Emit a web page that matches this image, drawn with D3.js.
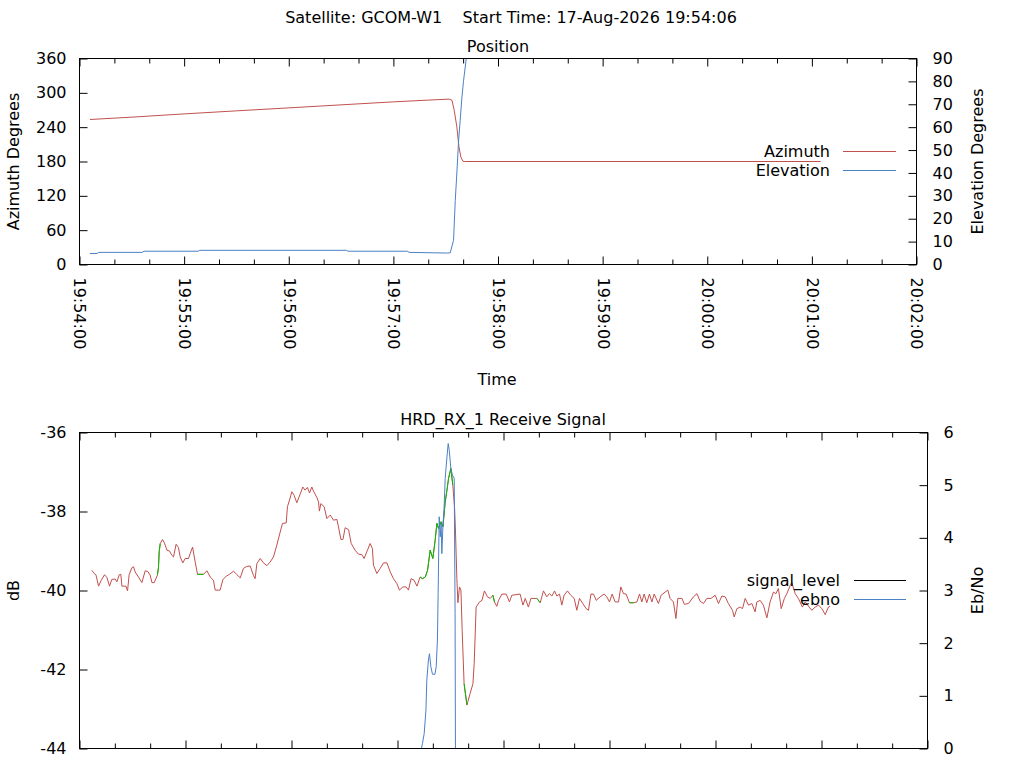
<!DOCTYPE html>
<html>
<head>
<meta charset="utf-8">
<script src="https://cdn.jsdelivr.net/npm/d3@7"></script>
<style>
  body { margin: 0; background: #fff; }
  svg text { font-family: "DejaVu Sans", sans-serif; font-size: 16px; fill: #000; }
</style>
</head>
<body>
<div id="chart-area"></div>
<script>
// pass start, everything below is seconds after this
const START = "2026-08-17 19:54:00"
const TITLE = "Satellite: GCOM-W1    Start Time: 17-Aug-2026 19:54:06"

// position panel
const azSec = [6, 30, 60, 90, 120, 150, 180, 200, 212, 213.6, 214.9, 216.4, 217.6, 218.7, 219.9, 221, 425]
const azDeg = [253.4, 257.5, 263.2, 268.5, 273.7, 279.0, 284.2, 287.3, 289.0, 287.0, 269.5, 240.5, 205.5, 188.0, 180.5, 180.0, 180.0]

const elSec = [6, 10, 11, 36, 37, 68, 69, 153, 154, 188, 189, 211, 212.6, 214.5, 215.5, 216.4, 217.4, 218.3, 219.3, 220.2, 221.8, 223]
const elDeg = [4.8, 4.8, 5.3, 5.3, 5.8, 5.8, 6.2, 6.2, 5.8, 5.8, 5.3, 5.0, 5.1, 10.6, 28, 40, 54, 63, 73, 80, 90, 99]

// receive signal panel
const sigSec = [
  7.0, 8.3, 9.3, 10.8, 12.3, 14.2, 15.5, 17.0, 18.3, 20.2,
  21.2, 22.5, 23.4, 24.0, 26.3, 27.2, 28.1, 29.7, 30.6, 31.5,
  33.4, 35.3, 37.2, 38.7, 40.0, 41.0, 42.3, 44.1, 44.7, 45.1,
  45.7, 47.0, 48.1, 49.5, 50.9, 52.3, 53.2, 54.7, 56.0, 57.0,
  58.5, 59.8, 61.7, 62.7, 64.0, 65.5, 66.8, 70.2, 72.1, 74.0,
  75.8, 76.8, 79.6, 81.2, 83.0, 84.9, 87.2, 89.1, 91.0, 92.8,
  94.7, 96.6, 98.5, 99.4, 100.4, 102.3, 104.1, 106.1, 107.9, 109.8,
  111.7, 113.6, 114.9, 117.0, 117.7, 118.9, 120.2, 121.5, 123.0, 124.9,
  126.4, 127.7, 129.0, 130.2, 131.5, 132.4, 134.4, 135.3, 135.8, 136.6,
  138.5, 140.0, 141.9, 143.8, 145.7, 146.6, 148.0, 149.1, 150.4, 152.3,
  153.8, 156.0, 157.9, 159.8, 161.1, 163.0, 164.5, 165.8, 166.4, 168.3,
  170.2, 172.1, 174.0, 175.9, 177.7, 179.6, 181.1, 183.0, 184.9, 186.2,
  187.7, 189.4, 191.0, 192.8, 194.1, 195.7, 197.0, 198.5, 200.0, 201.3,
  202.3, 203.2, 204.6, 205.7, 207.0, 208.0, 208.9, 210.2, 211.3, 212.3,
  212.8, 213.6, 214.2, 215.1, 215.9, 216.6, 217.7, 219.3, 221.1, 222.7,
  223.4, 224.5, 226.4, 227.8, 229.2, 230.9, 232.5, 234.0, 234.9, 236.2,
  237.2, 239.1, 241.5, 243.4, 244.7, 249.4, 251.0, 252.3, 254.1, 255.5,
  258.9, 260.8, 262.6, 264.5, 266.0, 267.4, 268.9, 270.2, 271.7, 273.0,
  274.3, 276.2, 278.1, 280.0, 281.5, 283.0, 284.9, 286.8, 288.1, 289.5,
  290.9, 292.5, 294.7, 297.0, 298.5, 300.0, 301.5, 303.2, 305.1, 306.4,
  307.9, 309.4, 311.3, 313.6, 315.5, 317.0, 318.3, 319.6, 321.1, 322.6,
  324.0, 325.3, 327.7, 329.2, 333.0, 334.3, 336.2, 337.6, 338.7, 341.0,
  342.4, 344.7, 347.5, 349.5, 351.3, 353.2, 355.1, 357.5, 359.8, 361.7,
  363.6, 365.5, 367.3, 369.6, 370.6, 372.1, 374.0, 375.3, 376.8, 378.7,
  380.6, 382.4, 383.4, 385.3, 387.1, 389.1, 390.9, 392.8, 394.2, 395.6,
  397.2, 399.0, 400.4, 402.3, 403.2, 405.1, 406.9, 409.2, 410.8, 413.0,
  414.5, 416.4, 418.3, 420.2, 422.1, 423.9, 424.9
]
const sigDb = [
  -39.49, -39.57, -39.60, -39.89, -39.74, -39.60, -39.67, -39.89, -39.72, -39.71,
  -39.78, -39.60, -39.59, -39.89, -39.89, -40.01, -39.60, -39.42, -39.40, -39.53,
  -39.66, -39.80, -39.50, -39.52, -39.61, -39.80, -39.80, -39.61, -39.42, -39.02,
  -38.81, -38.71, -38.80, -38.98, -39.00, -39.11, -39.15, -38.83, -38.91, -39.15,
  -39.30, -39.19, -39.19, -39.06, -38.90, -39.28, -39.59, -39.59, -39.50, -39.66,
  -39.74, -39.99, -39.99, -39.72, -39.64, -39.59, -39.51, -39.60, -39.68, -39.44,
  -39.39, -39.38, -39.62, -39.70, -39.32, -39.19, -39.30, -39.37, -39.28, -39.15,
  -38.85, -38.52, -38.30, -38.29, -37.88, -37.71, -37.50, -37.59, -37.78, -37.56,
  -37.38, -37.46, -37.39, -37.53, -37.38, -37.48, -37.65, -37.76, -37.99, -37.80,
  -37.88, -38.18, -38.09, -38.22, -38.20, -38.39, -38.71, -38.71, -38.41, -38.46,
  -38.81, -38.98, -39.08, -39.09, -39.19, -38.98, -38.81, -38.94, -39.36, -39.57,
  -39.44, -39.30, -39.30, -39.53, -39.70, -39.82, -39.99, -39.91, -39.91, -39.99,
  -39.70, -39.74, -39.89, -39.66, -39.70, -39.66, -39.49, -38.98, -39.19, -38.73,
  -38.30, -38.43, -38.26, -38.39, -37.76, -37.46, -37.16, -36.91, -37.33, -37.90,
  -38.47, -39.70, -40.31, -39.91, -39.99, -41.01, -42.36, -42.90, -42.61, -42.36,
  -41.85, -40.42, -40.29, -40.25, -40.01, -40.16, -40.20, -40.12, -40.29, -40.40,
  -40.25, -40.09, -40.09, -40.29, -40.12, -40.09, -40.37, -40.20, -40.42, -40.20,
  -40.20, -40.31, -40.01, -40.16, -40.08, -40.14, -40.01, -40.14, -40.09, -40.37,
  -40.12, -40.01, -40.12, -40.20, -40.50, -40.20, -40.33, -40.46, -40.50, -40.09,
  -40.09, -40.25, -40.16, -40.09, -40.16, -40.29, -40.09, -40.29, -40.29, -39.91,
  -40.08, -40.09, -40.31, -40.31, -40.29, -40.09, -40.29, -40.09, -40.31, -40.09,
  -40.29, -40.09, -40.33, -40.12, -39.99, -40.20, -40.29, -40.71, -40.20, -40.20,
  -40.35, -40.33, -40.16, -40.08, -40.27, -40.33, -40.20, -40.20, -40.12, -40.33,
  -40.14, -40.16, -40.33, -40.50, -40.67, -40.46, -40.42, -40.46, -40.20, -40.37,
  -40.33, -40.54, -40.29, -40.25, -40.37, -40.69, -40.29, -40.04, -40.08, -39.95,
  -40.46, -40.20, -40.08, -39.87, -39.80, -40.08, -40.20, -40.42, -40.29, -40.42,
  -40.50, -40.42, -40.37, -40.46, -40.61, -40.42, -40.40
]
// stretches where the signal_level trace is drawn green
const lockSpans = [[44.1, 45.7], [66.8, 70.2], [192.8, 211.3], [217.7, 219.3], [234.0, 234.9], [258.9, 260.8], [311.3, 313.6]]

const ebSec = [7, 193.5, 194.1, 195.1, 196.1, 196.6, 197.5, 198.1, 198.9, 199.8, 201.2, 201.9, 202.6, 203.0, 203.6, 204.2, 204.7, 205.1, 205.7, 206.4, 207.0, 208.0, 208.7, 209.3, 210.2, 211.1, 212.1, 212.6, 212.8, 425]
const ebVal = [0, 0, 0.09, 0.28, 0.73, 1.30, 1.68, 1.80, 1.55, 1.41, 1.41, 1.55, 2.06, 2.94, 4.40, 4.02, 4.27, 3.70, 4.21, 4.59, 5.13, 5.54, 5.79, 5.66, 5.32, 5.19, 5.13, 2.56, 0, 0]

// ticks
const azTicks = [0, 60, 120, 180, 240, 300, 360]
const elTicks = [0, 10, 20, 30, 40, 50, 60, 70, 80, 90]
const dbTicks = [-44, -42, -40, -38, -36]
const ebTicks = [0, 1, 2, 3, 4, 5, 6]
const minuteTicks = [0, 60, 120, 180, 240, 300, 360, 420, 480]

const RED = "#c0504d", BLUE = "#4a80c4", GREEN = "#00c000"

const svg = d3.select("#chart-area").append("svg")
  .attr("width", 1024)
  .attr("height", 768)

const t0 = d3.timeParse("%Y-%m-%d %H:%M:%S")(START)
const at = s => new Date(t0.getTime() + s * 1000)
const fmt = d3.timeFormat("%H:%M:%S")
const plain = d => String(d)   // gnuplot style "-36", not the unicode minus

// the two panel boxes (half pixels so 1px lines stay sharp)
const P1 = { LEFT: 79.5, RIGHT: 916.5, TOP: 58.5, BOTTOM: 264.5 }
const P2 = { LEFT: 79.5, RIGHT: 927.5, TOP: 432.5, BOTTOM: 748.5 }

const x1 = d3.scaleTime().domain([at(0), at(480)]).range([P1.LEFT, P1.RIGHT])
const yAz = d3.scaleLinear().domain([0, 360]).range([P1.BOTTOM, P1.TOP])
const yEl = d3.scaleLinear().domain([0, 90]).range([P1.BOTTOM, P1.TOP])

const x2 = d3.scaleTime().domain([at(0), at(480)]).range([P2.LEFT, P2.RIGHT])
const yDb = d3.scaleLinear().domain([-44, -36]).range([P2.BOTTOM, P2.TOP])
const yEb = d3.scaleLinear().domain([0, 6]).range([P2.BOTTOM, P2.TOP])

const defs = svg.append("defs")
function clip(id, P) {
  defs.append("clipPath").attr("id", id).append("rect")
    .attr("x", P.LEFT).attr("y", P.TOP)
    .attr("width", P.RIGHT - P.LEFT).attr("height", P.BOTTOM - P.TOP)
}
clip("c1", P1)
clip("c2", P2)

const pts = (secs, vals) => secs.map((s, i) => ({ s: s, v: vals[i] }))

function trace(g, data, x, y, color) {
  g.append("path")
    .datum(data)
    .attr("fill", "none")
    .attr("stroke", color)
    .attr("stroke-width", 1)
    .attr("d", d3.line().x(d => x(at(d.s))).y(d => y(d.v)))
}

// ---- panel 1: position
const g1 = svg.append("g").attr("clip-path", "url(#c1)")
trace(g1, pts(azSec, azDeg), x1, yAz, RED)
trace(g1, pts(elSec, elDeg), x1, yEl, BLUE)

// ---- panel 2: receive signal
const g2 = svg.append("g").attr("clip-path", "url(#c2)")
const sig = pts(sigSec, sigDb)
trace(g2, sig, x2, yDb, RED)
lockSpans.forEach(sp => {
  trace(g2, sig.filter(d => d.s >= sp[0] && d.s <= sp[1]), x2, yDb, GREEN)
})
trace(g2, pts(ebSec, ebVal), x2, yEb, BLUE)

// axes + frame, ticks point inwards like gnuplot
function frame(P, x, yL, yR, leftTicks, rightTicks, xLabels) {
  const minor = d3.range(0, 481, 20).filter(s => s % 60 != 0).map(at)
  const major = minuteTicks.map(at)
  const clean = g => g.select(".domain").remove()

  svg.append("g").attr("transform", `translate(0, ${P.BOTTOM})`)
    .call(d3.axisBottom(x).tickValues(major).tickSizeInner(-8).tickSizeOuter(0).tickFormat(xLabels ? fmt : ""))
    .call(clean)
    .call(g => g.selectAll("text")
      .attr("transform", "rotate(90)")
      .attr("x", 13).attr("y", 0).attr("dy", "0.35em")
      .attr("text-anchor", "start"))
  svg.append("g").attr("transform", `translate(0, ${P.BOTTOM})`)
    .call(d3.axisBottom(x).tickValues(minor).tickSizeInner(-5).tickSizeOuter(0).tickFormat(""))
    .call(clean)
  svg.append("g").attr("transform", `translate(0, ${P.TOP})`)
    .call(d3.axisTop(x).tickValues(major).tickSizeInner(-8).tickSizeOuter(0).tickFormat(""))
    .call(clean)
  svg.append("g").attr("transform", `translate(0, ${P.TOP})`)
    .call(d3.axisTop(x).tickValues(minor).tickSizeInner(-5).tickSizeOuter(0).tickFormat(""))
    .call(clean)

  svg.append("g").attr("transform", `translate(${P.LEFT}, 0)`)
    .call(d3.axisLeft(yL).tickValues(leftTicks).tickFormat(plain).tickSizeInner(-8).tickSizeOuter(0).tickPadding(13))
    .call(clean)
  svg.append("g").attr("transform", `translate(${P.RIGHT}, 0)`)
    .call(d3.axisRight(yR).tickValues(rightTicks).tickFormat(plain).tickSizeInner(-8).tickSizeOuter(0).tickPadding(16))
    .call(clean)

  svg.append("rect")
    .attr("x", P.LEFT).attr("y", P.TOP)
    .attr("width", P.RIGHT - P.LEFT).attr("height", P.BOTTOM - P.TOP)
    .attr("fill", "none").attr("stroke", "#000").attr("stroke-width", 1)
}
frame(P1, x1, yAz, yEl, azTicks, elTicks, true)
frame(P2, x2, yDb, yEb, dbTicks, ebTicks, false)

// texts
function label(x, y, txt, opts) {
  const o = opts || {}
  const t = svg.append("text")
    .attr("x", x).attr("y", y)
    .attr("text-anchor", o.anchor || "middle")
    .style("white-space", "pre")
    .text(txt)
  if (o.rot) t.attr("transform", `rotate(${o.rot}, ${x}, ${y})`)
  if (o.dy) t.attr("dy", o.dy)
  return t
}
label(511, 23, TITLE)
label(498, 52, "Position")
label(497, 385, "Time")
label(503, 425, "HRD_RX_1 Receive Signal")
label(18.5, 161.5, "Azimuth Degrees", { rot: -90 })
label(983, 161.5, "Elevation Degrees", { rot: -90 })
label(18.5, 590.5, "dB", { rot: -90 })
label(982.5, 590.5, "Eb/No", { rot: -90 })

// legends
function legend(x, y, txt) {
  label(x, y, txt, { anchor: "end", dy: "0.35em" })
}
function swatch(x0, x1_, y, color) {
  svg.append("line")
    .attr("x1", x0).attr("x2", x1_).attr("y1", y).attr("y2", y)
    .attr("stroke", color).attr("stroke-width", 1)
}
legend(830, 151, "Azimuth")
swatch(843, 896, 151.5, RED)
legend(830, 170, "Elevation")
swatch(843, 896, 170.5, BLUE)
legend(840, 580, "signal_level")
swatch(854, 906, 580.5, "#000")
legend(840, 599, "ebno")
swatch(854, 906, 599.5, BLUE)
</script>
</body>
</html>
